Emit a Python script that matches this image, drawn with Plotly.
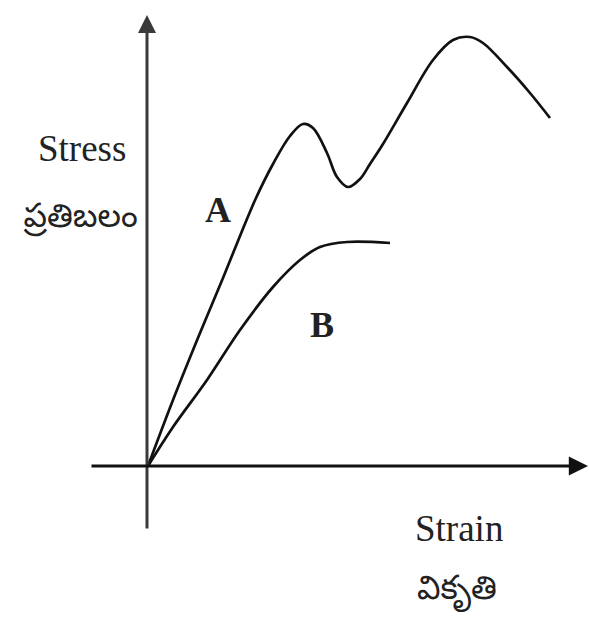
import plotly.graph_objects as go

# Curve values (strain, stress), origin at the axes crossing
curve_a_strain = [0, 25, 52, 75, 92, 108, 125, 142, 155, 165, 179, 189, 200, 212, 222, 235, 259, 285, 305, 322, 335, 359, 382, 402]
curve_a_stress = [0, 66, 133, 188, 230, 268, 302, 330, 342, 338, 313, 289, 279, 287, 302, 322, 363, 406, 426, 429, 423, 399, 373, 348]

curve_b_strain = [0, 25, 59, 92, 125, 152, 172, 199, 242]
curve_b_stress = [0, 39, 86, 136, 179, 206, 219, 224, 223]

labels = {"A": (70, 256), "B": (174, 141)}
y_title = ["Stress", "ప్రతిబలం"]
x_title = ["Strain", "వికృతి"]

fig = go.Figure()
line_style = dict(color="#111111", width=2.7, shape="spline", smoothing=1.0)
fig.add_trace(go.Scatter(x=curve_a_strain, y=curve_a_stress, mode="lines", line=line_style, hoverinfo="skip"))
fig.add_trace(go.Scatter(x=curve_b_strain, y=curve_b_stress, mode="lines", line=line_style, hoverinfo="skip"))

# axes with arrowheads
fig.add_annotation(x=-1, y=451, ax=-1, ay=-64, xref="x", yref="y", axref="x", ayref="y",
                   showarrow=True, arrowhead=2, arrowsize=1.2, arrowwidth=3, arrowcolor="#3a3a3a", text="")
fig.add_annotation(x=440, y=0, ax=-58, ay=0, xref="x", yref="y", axref="x", ayref="y",
                   showarrow=True, arrowhead=2, arrowsize=1.2, arrowwidth=3.2, arrowcolor="#111", text="")

font_en = dict(family="Liberation Serif, serif", size=37, color="#222")
font_te = dict(family="Liberation Serif, Noto Sans Telugu, Noto Sans, serif", size=33, color="#222")
for name, (lx, ly) in labels.items():
    fig.add_annotation(x=lx, y=ly, text="<b>%s</b>" % name, showarrow=False,
                       font=dict(family="Liberation Serif, serif", size=36, color="#222"))

fig.add_annotation(x=-66, y=318, text=y_title[0], showarrow=False, font=font_en)
fig.add_annotation(x=-68, y=249, text=y_title[1], showarrow=False, font=font_te)
fig.add_annotation(x=311, y=-62, text=x_title[0], showarrow=False, font=font_en)
fig.add_annotation(x=309, y=-125, text=x_title[1], showarrow=False, font=font_te)

fig.update_xaxes(range=[-148, 441], visible=False, fixedrange=True)
fig.update_yaxes(range=[-157, 466], visible=False, fixedrange=True)
fig.update_layout(width=589, height=623, margin=dict(l=0, r=0, t=0, b=0),
                  paper_bgcolor="white", plot_bgcolor="white", showlegend=False)
fig.write_html("out.html", config={"displayModeBar": False},
               post_script="document.body.style.margin='0';")
